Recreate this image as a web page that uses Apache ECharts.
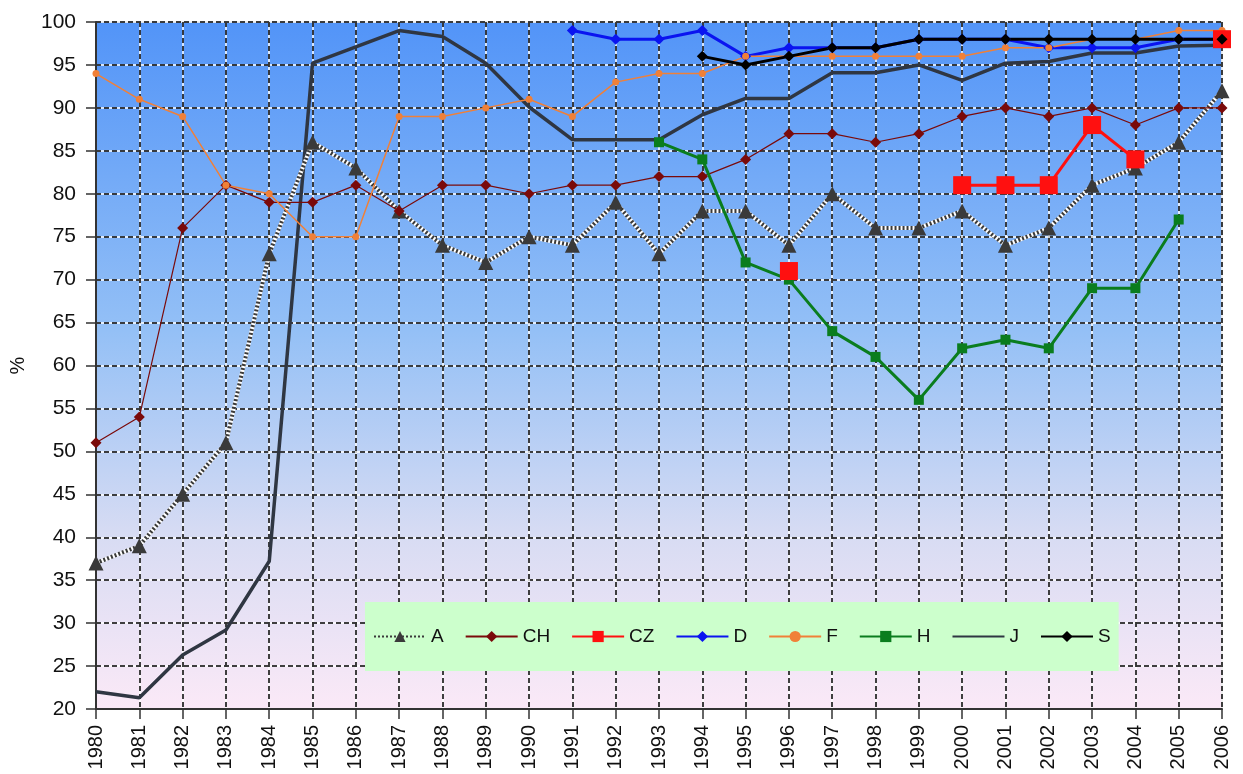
<!DOCTYPE html>
<html>
<head>
<meta charset="utf-8">
<script src="https://cdn.jsdelivr.net/npm/echarts@6/dist/echarts.min.js"></script>
<style>
html,body{margin:0;padding:0;background:#ffffff;}
#chart{width:1243px;height:774px;}
</style>
</head>
<body>
<div id="chart"></div>
<script>
var years = ['1980','1981','1982','1983','1984','1985','1986','1987','1988','1989','1990','1991','1992','1993','1994','1995','1996','1997','1998','1999','2000','2001','2002','2003','2004','2005','2006'];
var yTicks = [20,25,30,35,40,45,50,55,60,65,70,75,80,85,90,95,100];
var seriesNames = ['A','CH','CZ','D','F','H','J','S'];

var A  = [37,39,45,51,73,86,83,78,74,72,75,74,79,73,78,78,74,80,76,76,78,74,76,81,83,86,92];
var CH = [51,54,76,81,79,79,81,78,81,81,80,81,81,82,82,84,87,87,86,87,89,90,89,90,88,90,90];
var CZ = [null,null,null,null,null,null,null,null,null,null,null,null,null,null,null,null,71,null,null,null,81,81,81,88,84,null,98];
var D  = [null,null,null,null,null,null,null,null,null,null,null,99,98,98,99,96,97,97,97,98,98,98,97,97,97,98,98];
var F  = [94,91,89,81,80,75,75,89,89,90,91,89,93,94,94,96,96,96,96,96,96,97,97,98,98,99,99];
var H  = [null,null,null,null,null,null,null,null,null,null,null,null,null,86,84,72,70,64,61,56,62,63,62,69,69,77,null];
var J  = [22,21.3,26.3,29.2,37.2,95.2,97.1,99,98.3,95.2,90.1,86.3,86.3,86.3,89.2,91.1,91.1,94.1,94.1,95,93.2,95.2,95.4,96.4,96.4,97.2,97.3];
var S  = [null,null,null,null,null,null,null,null,null,null,null,null,null,null,96,95,96,97,97,98,98,98,98,98,98,98,98];

var FONT = 'Liberation Sans';
var chart = echarts.init(document.getElementById('chart'));

function lineSeries(name, data, color, width, symbol, size, extra) {
  var s = {
    name: name, type: 'line', data: data, xAxisIndex: 0, yAxisIndex: 0,
    symbol: symbol, symbolSize: size, showSymbol: symbol !== 'none',
    connectNulls: false, animation: false,
    lineStyle: {color: color, width: width},
    itemStyle: {color: color, borderWidth: 0}
  };
  if (extra) { for (var k in extra) s[k] = extra[k]; }
  return s;
}

var legendData = seriesNames.map(function (n) {
  if (n === 'J') {
    return {name: n, itemStyle: {color: 'rgba(0,0,0,0)', borderColor: 'rgba(0,0,0,0)', opacity: 0}};
  }
  return {name: n};
});

var option = {
  animation: false,
  backgroundColor: '#ffffff',
  grid: {
    left: 92, right: 21, top: 22, bottom: 65,
    show: true, borderColor: '#8a8a8a', borderWidth: 1,
    backgroundColor: {
      type: 'linear', x: 0, y: 0, x2: 0, y2: 1,
      colorStops: [
        {offset: 0, color: '#5294f8'},
        {offset: 0.45, color: '#94c0f6'},
        {offset: 0.75, color: '#d8dcf3'},
        {offset: 1, color: '#fbe9f7'}
      ]
    }
  },
  legend: {
    data: legendData,
    left: 365, top: 602,
    orient: 'horizontal',
    backgroundColor: '#ccffcc',
    padding: [25, 8, 25, 8],
    itemGap: 21,
    itemWidth: 52, itemHeight: 14,
    textStyle: {fontFamily: FONT, fontSize: 19, color: '#111'}
  },
  xAxis: [
    {
      type: 'category', data: years, boundaryGap: false,
      axisLine: {show: true, onZero: false, lineStyle: {color: '#333', width: 2}},
      axisTick: {show: true, length: 10, alignWithLabel: true, lineStyle: {color: '#333', width: 1.5}},
      axisLabel: {rotate: 90, margin: 16, fontFamily: FONT, fontSize: 20, color: '#111', interval: 0},
      splitLine: {show: true, interval: 0, lineStyle: {color: '#ffffff', width: 1.5, type: 'solid'}}
    },
    {
      type: 'category', data: years, boundaryGap: false, position: 'bottom',
      axisLine: {show: false}, axisTick: {show: false}, axisLabel: {show: false},
      splitLine: {show: true, interval: 0, lineStyle: {color: '#000000', width: 1.5, type: [5, 3]}}
    }
  ],
  yAxis: [
    {
      type: 'value', min: yTicks[0], max: yTicks[yTicks.length - 1], interval: 5,
      name: '%', nameLocation: 'middle', nameGap: 68, nameRotate: 90,
      nameTextStyle: {fontFamily: FONT, fontSize: 20, color: '#111'},
      axisLine: {show: true, lineStyle: {color: '#333', width: 2}},
      axisTick: {show: true, length: 10, lineStyle: {color: '#333', width: 1.5}},
      axisLabel: {margin: 20, fontFamily: FONT, fontSize: 21, color: '#111'},
      splitLine: {show: true, lineStyle: {color: '#ffffff', width: 1.5, type: 'solid'}}
    },
    {
      type: 'value', min: yTicks[0], max: yTicks[yTicks.length - 1], interval: 5, position: 'left',
      axisLine: {show: false}, axisTick: {show: false}, axisLabel: {show: false},
      splitLine: {show: true, lineStyle: {color: '#000000', width: 1.5, type: [5, 3]}}
    }
  ],
  series: [
    lineSeries('J', J, '#2f3642', 3.5, 'none', 0),
    lineSeries('A_bg', A, '#ffffff', 4, 'none', 0, {silent: true, legendHoverLink: false}),
    lineSeries('A', A, '#3a3a3a', 4, 'triangle', 15, {lineStyle: {color: '#3a3a3a', width: 4, type: [2, 2]}}),
    lineSeries('CH', CH, '#7a0a0a', 1.2, 'diamond', 11),
    lineSeries('D', D, '#0a14f0', 3, 'diamond', 11),
    lineSeries('F', F, '#f08038', 1.5, 'circle', 7),
    lineSeries('H', H, '#0a7d1e', 3, 'rect', 10),
    lineSeries('CZ', CZ, '#ff1010', 3, 'rect', 18),
    lineSeries('S', S, '#000000', 3, 'diamond', 11)
  ]
};
chart.setOption(option);
</script>
</body>
</html>
